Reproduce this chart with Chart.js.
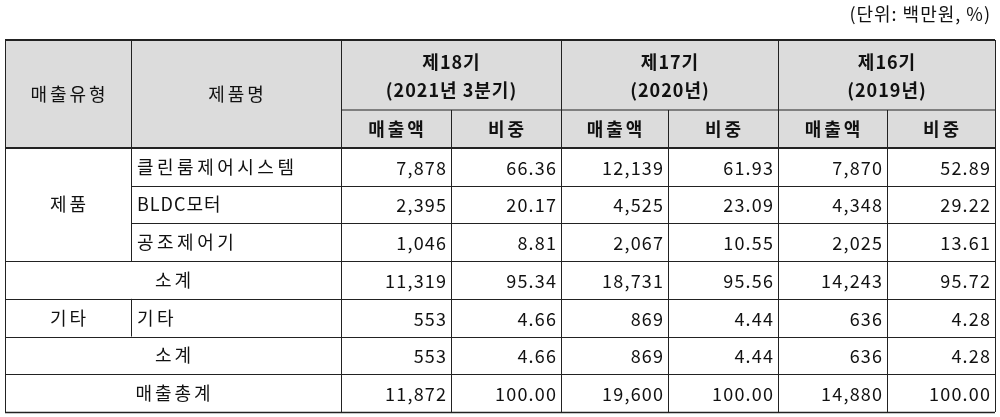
<!DOCTYPE html>
<html><head><meta charset="utf-8">
<script src="https://cdn.jsdelivr.net/npm/chart.js@4"></script>
<style>html,body{margin:0;padding:0;background:#fff}#w{width:1000px;height:417px}</style>
</head><body><div id="w"><canvas id="c"></canvas></div>
<script>
const unitLabel = "(단위: 백만원, %)";
const periods = [["제18기","(2021년 3분기)"],["제17기","(2020년)"],["제16기","(2019년)"]];
const subHeaders = ["매출액","비중"];
const types = ["제품","제품","제품","소계","기타","소계","매출총계"];
const products = ["클린룸제어시스템","BLDC모터","공조제어기","","기타","",""];
const sales18 = [7878,2395,1046,11319,553,553,11872];
const share18 = [66.36,20.17,8.81,95.34,4.66,4.66,100.00];
const sales17 = [12139,4525,2067,18731,869,869,19600];
const share17 = [61.93,23.09,10.55,95.56,4.44,4.44,100.00];
const sales16 = [7870,4348,2025,14243,636,636,14880];
const share16 = [52.89,29.22,13.61,95.72,4.28,4.28,100.00];

const colX = [5,131,341,451,561,668,778,887,995];
const yTop = 40, yMid = 110, yHead = 148, rowH = (412-148)/7;
const F = '"Noto Sans CJK KR", "Noto Sans", sans-serif';

const tablePlugin = {
  id:'table',
  afterDraw(chart){
    const ctx = chart.ctx;
    ctx.save();
    ctx.fillStyle='#dcdcdc';
    ctx.fillRect(colX[0],yTop,colX[8]-colX[0],yHead-yTop);
    ctx.strokeStyle='#222'; ctx.lineWidth=1;
    const line=(x1,y1,x2,y2,w)=>{ctx.lineWidth=w||1;ctx.beginPath();ctx.moveTo(x1,y1);ctx.lineTo(x2,y2);ctx.stroke();};
    const rowY=i=>yHead+i*rowH;
    line(colX[0],yTop,colX[8],yTop,2);
    line(colX[2],yMid,colX[8],yMid);
    line(colX[0],yHead,colX[8],yHead,2);
    for(let i=1;i<=7;i++){
      let x1=colX[0];
      if(i===1||i===2) x1=colX[1];
      line(x1,Math.round(rowY(i))+0.5,colX[8],Math.round(rowY(i))+0.5, i===7?1.5:1);
    }
    [0,8].forEach(k=>line(colX[k]+0.5,yTop,colX[k]+0.5,412));
    [2,4,6].forEach(k=>line(colX[k]+0.5,yTop,colX[k]+0.5,412));
    [3,5,7].forEach(k=>line(colX[k]+0.5,yMid,colX[k]+0.5,412));
    line(colX[1]+0.5,yTop,colX[1]+0.5,rowY(3));
    line(colX[1]+0.5,rowY(4),colX[1]+0.5,rowY(5));
    const txt=(s,x,y,align,ls)=>{
      ctx.letterSpacing=ls+'px';
      ctx.textAlign=align;
      let xx=x;
      if(align==='center') xx=x+ls/2;
      if(align==='right') xx=x+ls;
      ctx.fillText(s,xx,y);
    };
    ctx.fillStyle='#111'; ctx.textBaseline='middle';
    ctx.font='18px '+F;
    txt(unitLabel,990,14,'right',1);
    txt("매출유형",(colX[0]+colX[1])/2,(yTop+yHead)/2,'center',3);
    txt("제품명",(colX[1]+colX[2])/2,(yTop+yHead)/2,'center',3);
    ctx.font='bold 18px '+F;
    periods.forEach((p,j)=>{
      const cx=(colX[2+2*j]+colX[4+2*j])/2;
      txt(p[0],cx,62,'center',1); txt(p[1],cx,90,'center',1);
      subHeaders.forEach((s,k)=>txt(s,(colX[2+2*j+k]+colX[3+2*j+k])/2,129,'center',3));
    });
    ctx.font='18px '+F;
    const c0=(colX[0]+colX[1])/2, cm=(colX[0]+colX[2])/2;
    txt(types[0],c0,(rowY(0)+rowY(3))/2,'center',3);
    txt(types[4],c0,(rowY(4)+rowY(5))/2,'center',3);
    [3,5,6].forEach(i=>txt(types[i],cm,(rowY(i)+rowY(i+1))/2,'center',3));
    products.forEach((p,i)=>{ if(p) txt(p,colX[1]+6,(rowY(i)+rowY(i+1))/2,'left',/^[A-Z]/.test(p)?1:3.5); });
    const cols=[sales18,share18,sales17,share17,sales16,share16];
    cols.forEach((arr,k)=>{
      arr.forEach((v,i)=>{
        const s = k%2===0 ? v.toLocaleString('en-US') : v.toFixed(2);
        txt(s,colX[3+k]-5,(rowY(i)+rowY(i+1))/2+1,'right',1.2);
      });
    });
    ctx.restore();
  }
};
new Chart(document.getElementById('c'),{
  type:'bar',
  data:{labels:products,datasets:[{data:sales18,backgroundColor:'rgba(0,0,0,0)'}]},
  options:{responsive:true,maintainAspectRatio:false,animation:false,
    plugins:{legend:{display:false},tooltip:{enabled:false}},
    scales:{x:{display:false},y:{display:false}}},
  plugins:[tablePlugin]
});
</script></body></html>
